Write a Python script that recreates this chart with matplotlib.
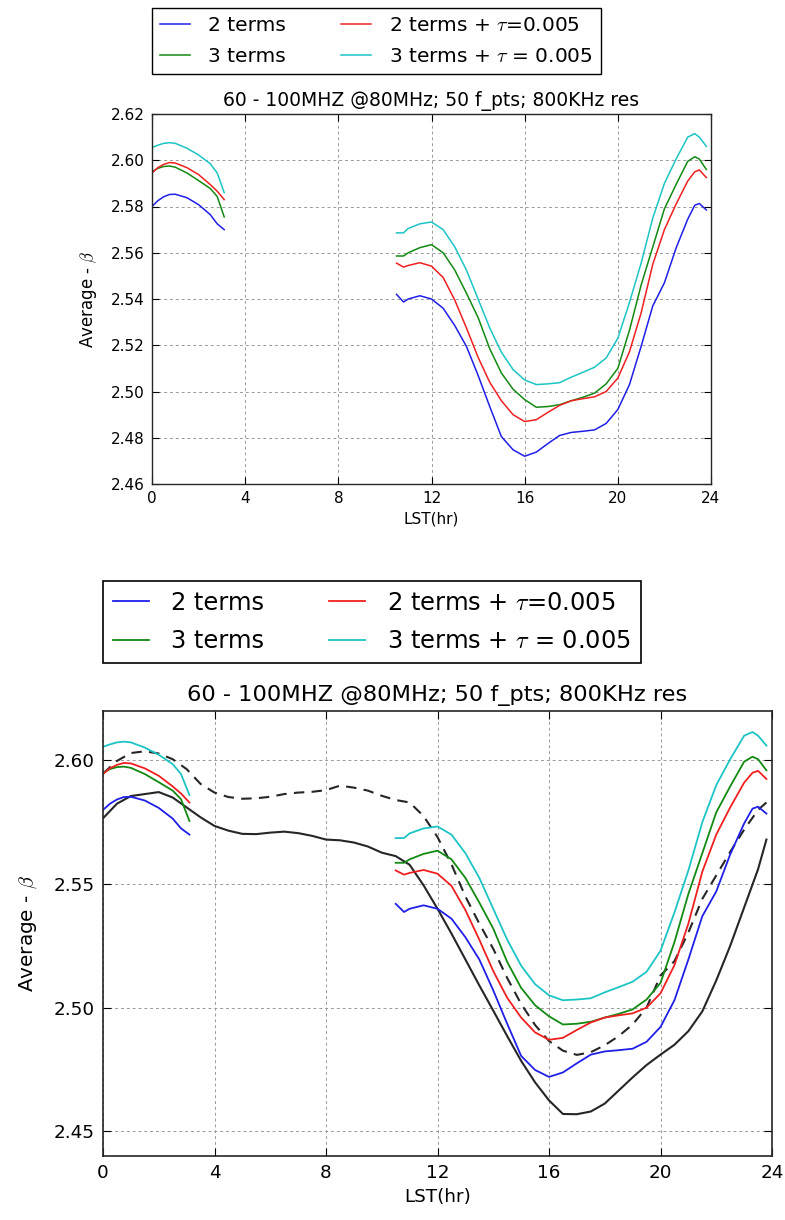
import numpy as np
import matplotlib
matplotlib.use("Agg")
import matplotlib.pyplot as plt

plt.rcParams['font.family'] = ['DejaVu Sans']
plt.rcParams['mathtext.fontset'] = 'cm'

# ---------------------------------------------------------------
# data
# ---------------------------------------------------------------
lst_early = [0.0, 0.25, 0.5, 0.75, 1.0, 1.5, 2.0, 2.5, 2.8, 3.1]
lst_late = [10.5, 10.8, 11.0, 11.5, 12.0, 12.5, 13.0, 13.5, 14.0, 14.5,
            15.0, 15.5, 16.0, 16.5, 17.0, 17.5, 18.0, 18.5, 19.0, 19.5,
            20.0, 20.5, 21.0, 21.5, 22.0, 22.5, 23.0, 23.3, 23.5, 23.8]

two_terms_early = [2.5800, 2.5825, 2.5842, 2.5852, 2.5853, 2.5838, 2.5808,
                   2.5765, 2.5725, 2.5700]
two_terms_late = [2.5420, 2.5387, 2.5400, 2.5414, 2.5400, 2.5360, 2.5285,
                  2.5195, 2.5070, 2.4935, 2.4805, 2.4748, 2.4720, 2.4738,
                  2.4775, 2.4810, 2.4823, 2.4828, 2.4834, 2.4862, 2.4922,
                  2.5030, 2.5195, 2.5370, 2.5470, 2.5620, 2.5745, 2.5805,
                  2.5813, 2.5785]

three_terms_early = [2.5950, 2.5965, 2.5973, 2.5975, 2.5970, 2.5945, 2.5912,
                     2.5878, 2.5843, 2.5755]
three_terms_late = [2.5586, 2.5586, 2.5600, 2.5622, 2.5635, 2.5600, 2.5525,
                    2.5425, 2.5320, 2.5185, 2.5080, 2.5010, 2.4965, 2.4932,
                    2.4935, 2.4943, 2.4960, 2.4975, 2.4993, 2.5033, 2.5100,
                    2.5265, 2.5460, 2.5625, 2.5790, 2.5895, 2.5995, 2.6015,
                    2.6005, 2.5960]

two_tau_early = [2.5945, 2.5968, 2.5982, 2.5990, 2.5988, 2.5968, 2.5938,
                 2.5895, 2.5866, 2.5830]
two_tau_late = [2.5555, 2.5538, 2.5545, 2.5557, 2.5542, 2.5493, 2.5395,
                2.5275, 2.5148, 2.5040, 2.4960, 2.4900, 2.4870, 2.4878,
                2.4910, 2.4940, 2.4960, 2.4969, 2.4977, 2.5000, 2.5058,
                2.5172, 2.5340, 2.5550, 2.5700, 2.5810, 2.5910, 2.5950,
                2.5958, 2.5925]

three_tau_early = [2.6055, 2.6065, 2.6073, 2.6076, 2.6073, 2.6052, 2.6023,
                   2.5985, 2.5945, 2.5860]
three_tau_late = [2.5686, 2.5686, 2.5705, 2.5725, 2.5733, 2.5700, 2.5625,
                  2.5525, 2.5400, 2.5275, 2.5170, 2.5095, 2.5050, 2.5030,
                  2.5033, 2.5038, 2.5062, 2.5083, 2.5105, 2.5145, 2.5230,
                  2.5385, 2.5555, 2.5750, 2.5900, 2.6005, 2.6100, 2.6115,
                  2.6100, 2.6060]

# black reference curves (bottom panel only)
lst_full = [0.0, 0.5, 1.0, 1.5, 2.0, 2.5, 3.0, 3.5, 4.0, 4.5, 5.0, 5.5,
            6.0, 6.5, 7.0, 7.5, 8.0, 8.5, 9.0, 9.5, 10.0, 10.5, 11.0, 11.5,
            12.0, 12.5, 13.0, 13.5, 14.0, 14.5, 15.0, 15.5, 16.0, 16.5,
            17.0, 17.5, 18.0, 18.5, 19.0, 19.5, 20.0, 20.5, 21.0, 21.5,
            22.0, 22.5, 23.0, 23.5, 23.8]
ref_solid = [2.5766, 2.5825, 2.5856, 2.5864, 2.5872, 2.5850, 2.5810, 2.5770,
             2.5735, 2.5716, 2.5703, 2.5702, 2.5708, 2.5712, 2.5706, 2.5695,
             2.5680, 2.5677, 2.5668, 2.5652, 2.5627, 2.5613, 2.5578, 2.5495,
             2.5400, 2.5300, 2.5195, 2.5090, 2.4988, 2.4885, 2.4785, 2.4698,
             2.4625, 2.4570, 2.4569, 2.4580, 2.4612, 2.4665, 2.4718, 2.4768,
             2.4810, 2.4850, 2.4905, 2.4985, 2.5110, 2.5250, 2.5405, 2.5560,
             2.5680]
ref_dashed = [2.5947, 2.5998, 2.6030, 2.6037, 2.6028, 2.6005, 2.5965, 2.5905,
              2.5870, 2.5852, 2.5845, 2.5847, 2.5853, 2.5864, 2.5870, 2.5873,
              2.5880, 2.5898, 2.5890, 2.5878, 2.5857, 2.5840, 2.5830, 2.5775,
              2.5690, 2.5580, 2.5450, 2.5340, 2.5238, 2.5120, 2.5015, 2.4930,
              2.4865, 2.4826, 2.4809, 2.4820, 2.4848, 2.4885, 2.4932, 2.5000,
              2.5130, 2.5188, 2.5304, 2.5440, 2.5535, 2.5630, 2.5720, 2.5800,
              2.5830]

labels = ["2 terms", "3 terms", r"2 terms + $\tau$=0.005",
          r"3 terms + $\tau$ = 0.005"]
title = "60 - 100MHZ @80MHz; 50 f_pts; 800KHz res"


def join(early, late):
    # gap between the two LST windows
    return np.array(list(early) + [np.nan] + list(late))


lst = join(lst_early, lst_late)
series = [(join(two_terms_early, two_terms_late), "#1f1fe8"),
          (join(three_terms_early, three_terms_late), "#128a12"),
          (join(two_tau_early, two_tau_late), "#f02020"),
          (join(three_tau_early, three_tau_late), "#1cc4c4")]


def panel(ax, scale, yticks, lw):
    handles = []
    for (vals, col), lab in zip(series, labels):
        h, = ax.plot(lst, vals, color=col, lw=lw, label=lab)
        handles.append(h)
    ax.set_xlim(0, 24)
    ax.set_xticks(np.arange(0, 25, 4))
    ax.set_yticks(yticks)
    ax.yaxis.set_major_formatter(matplotlib.ticker.FormatStrFormatter('%.2f'))
    ax.grid(True, color='0.6', linestyle=(0, (3, 3)), lw=0.7)
    ax.tick_params(direction='in', top=True, right=True, length=5 * scale,
                   labelsize=11 * scale, pad=5 * scale)
    for sp in ax.spines.values():
        sp.set_linewidth(1.0 * scale)
        sp.set_color('0.15')
    ax.set_title(title, fontsize=13.5 * scale, pad=6 * scale)
    ax.set_xlabel("LST(hr)", fontsize=11 * scale)
    ax.set_ylabel(r"Average - $\beta$", fontsize=12 * scale,
                  labelpad=9 * scale)
    leg = ax.legend(handles, labels,
                    ncol=2, loc='lower left', bbox_to_anchor=(0.0, 1.108),
                    borderaxespad=0, fontsize=14.5 * scale, fancybox=False,
                    edgecolor='k', framealpha=1, handlelength=1.5,
                    columnspacing=2.7, handletextpad=0.9, labelspacing=0.6,
                    borderpad=0.4)
    leg.get_frame().set_linewidth(1.0 * scale)
    return handles


fig = plt.figure(figsize=(7.85, 12.2), dpi=100)

ax1 = fig.add_axes([152 / 785, 1 - 484 / 1220, 559 / 785, 370 / 1220])
panel(ax1, 1.0, np.arange(2.46, 2.6201, 0.02), 1.1)
ax1.set_ylim(2.46, 2.62)

ax2 = fig.add_axes([103 / 785, 1 - 1156 / 1220, 669 / 785, 445 / 1220])
ax2.plot(lst_full, ref_solid, color='0.15', lw=1.5)
ax2.plot(lst_full, ref_dashed, color='0.15', lw=1.5, linestyle=(0, (5, 3.5)))
panel(ax2, 1.2, [2.45, 2.50, 2.55, 2.60], 1.3)
ax2.set_ylim(2.44, 2.62)

fig.savefig("out.png", dpi=100, facecolor='w')
